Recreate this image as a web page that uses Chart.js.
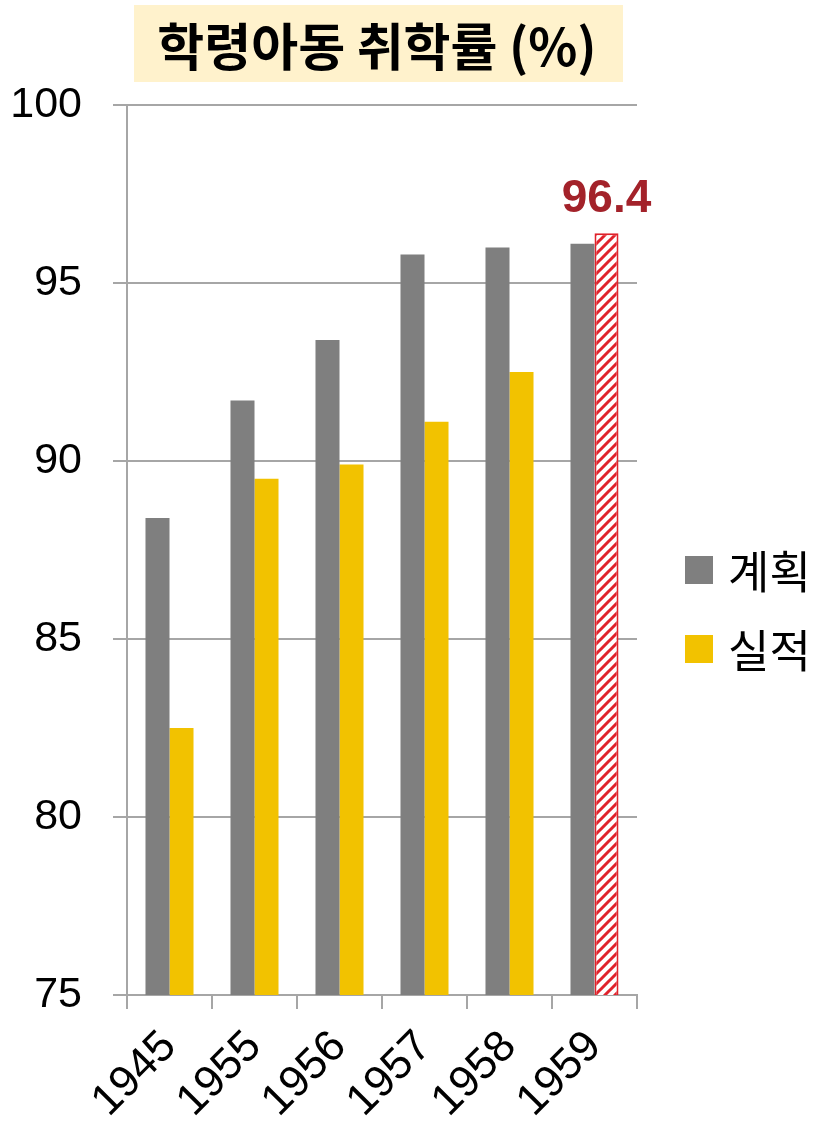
<!DOCTYPE html>
<html>
<head>
<meta charset="utf-8">
<script src="https://cdn.jsdelivr.net/npm/chart.js@4.4.1/dist/chart.umd.min.js"></script>
<style>
  html, body { margin: 0; background: #fff; }
  #wrap { width: 821px; height: 1122px; }
</style>
</head>
<body>
<div id="wrap"><canvas id="chart" width="821" height="1122"></canvas></div>
<script>
// Data
const years = ['1945', '1955', '1956', '1957', '1958', '1959'];
const planned = [88.4, 91.7, 93.4, 95.8, 96.0, 96.1];
const actual = [82.5, 89.5, 89.9, 91.1, 92.5, 96.4];
const seriesNames = ['계획', '실적'];
const titleText = '학령아동 취학률 (%)';
const highlightIndex = 5;

const FONT = "'Liberation Sans', 'Noto Sans CJK KR', Arial, sans-serif";
const KFONT = "'Noto Sans CJK KR', 'Liberation Sans', sans-serif";
const GRAY = '#7f7f7f';
const YELLOW = '#f2c200';
const RED = '#e0222b';
const LABEL_RED = '#a3222a';
const GRID = '#a6a6a6';

// diagonal hatch for the last (estimated) bar
function makeHatch() {
  const p = document.createElement('canvas');
  p.width = 10; p.height = 10;
  const g = p.getContext('2d');
  g.fillStyle = '#fff';
  g.fillRect(0, 0, 10, 10);
  g.strokeStyle = RED;
  g.lineWidth = 3;
  g.beginPath();
  g.moveTo(-5, 5); g.lineTo(5, -5);
  g.moveTo(0, 10); g.lineTo(10, 0);
  g.moveTo(5, 15); g.lineTo(15, 5);
  g.stroke();
  return g.createPattern(p, 'repeat');
}
const hatch = makeHatch();

// Title box drawn behind everything
const titlePlugin = {
  id: 'titleBox',
  beforeDraw(chart) {
    const ctx = chart.ctx;
    ctx.save();
    ctx.fillStyle = '#fff2cc';
    ctx.fillRect(134, 5, 489, 77);
    ctx.fillStyle = '#000';
    ctx.font = 'bold 51px ' + KFONT;
    ctx.textAlign = 'center';
    ctx.textBaseline = 'middle';
    ctx.fillText(titleText, 377, 47);
    ctx.restore();
  }
};

// Legend on the right, squares + labels
const sideLegend = {
  id: 'sideLegend',
  afterDraw(chart) {
    const ctx = chart.ctx;
    const rows = [570, 649];
    ctx.save();
    chart.data.datasets.forEach((ds, i) => {
      const y = rows[i];
      ctx.fillStyle = i === 0 ? GRAY : YELLOW;
      ctx.fillRect(685, y - 14, 28, 28);
      ctx.fillStyle = '#000';
      ctx.font = '45px ' + KFONT;
      ctx.textAlign = 'left';
      ctx.textBaseline = 'middle';
      ctx.fillText(ds.label, 728, y + 2);
    });
    ctx.restore();
  }
};

// Value label above the hatched bar
const valueLabel = {
  id: 'valueLabel',
  afterDatasetsDraw(chart) {
    const bar = chart.getDatasetMeta(1).data[highlightIndex];
    if (!bar) return;
    const ctx = chart.ctx;
    ctx.save();
    ctx.fillStyle = LABEL_RED;
    ctx.font = 'bold 46px ' + FONT;
    ctx.textAlign = 'center';
    ctx.textBaseline = 'alphabetic';
    ctx.fillText(actual[highlightIndex].toFixed(1), bar.x, bar.y - 21);
    ctx.restore();
  }
};

new Chart(document.getElementById('chart').getContext('2d'), {
  type: 'bar',
  data: {
    labels: years,
    datasets: [{
      label: seriesNames[0],
      data: planned,
      backgroundColor: GRAY,
      borderWidth: 0
    }, {
      label: seriesNames[1],
      data: actual,
      backgroundColor: ctx => ctx.dataIndex === highlightIndex ? hatch : YELLOW,
      borderColor: ctx => ctx.dataIndex === highlightIndex ? RED : YELLOW,
      borderWidth: ctx => ctx.dataIndex === highlightIndex ? 2 : 0
    }]
  },
  options: {
    responsive: false,
    animation: false,
    datasets: { bar: { barPercentage: 1, categoryPercentage: 0.565 } },
    layout: { padding: { top: 105, right: 184, bottom: 0, left: 0 } },
    plugins: {
      title: { display: false },
      tooltip: { enabled: false },
      legend: { display: false }
    },
    scales: {
      x: {
        grid: { display: true, drawOnChartArea: false, drawTicks: true, tickLength: 14, color: GRID, lineWidth: 2 },
        border: { color: GRID, width: 2 },
        ticks: { color: '#000', minRotation: 45, maxRotation: 45, padding: 12, font: { family: FONT, size: 44 } },
        afterFit(scale) {
          scale.height = 127;
          scale.paddingLeft = 0;
          scale.paddingRight = 0;
        }
      },
      y: {
        min: 75,
        max: 100,
        grid: { color: GRID, lineWidth: 2, tickLength: 14 },
        border: { color: GRID, width: 2 },
        ticks: { stepSize: 5, color: '#000', padding: 31, font: { family: FONT, size: 43 } },
        afterFit(scale) {
          scale.width = 127;
        }
      }
    }
  },
  plugins: [titlePlugin, valueLabel, sideLegend]
});
</script>
</body>
</html>
